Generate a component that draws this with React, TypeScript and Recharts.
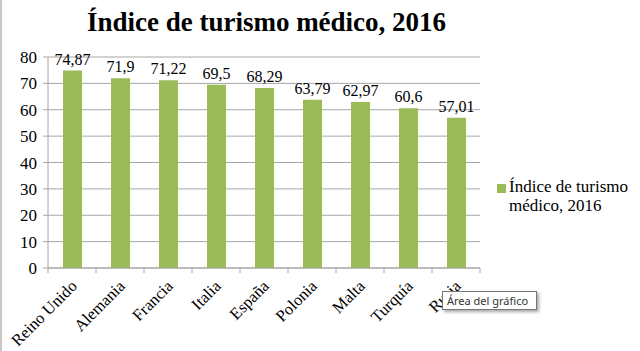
import React from "react";
import { BarChart, Bar, XAxis, YAxis, CartesianGrid, LabelList } from "recharts";

const countries = ["Reino Unido", "Alemania", "Francia", "Italia", "España", "Polonia", "Malta", "Turquía", "Rusia"];
const values = [74.87, 71.9, 71.22, 69.5, 68.29, 63.79, 62.97, 60.6, 57.01];
const yTicks = [0, 10, 20, 30, 40, 50, 60, 70, 80];
const title = "Índice de turismo médico, 2016";
const seriesName = "Índice de turismo médico, 2016";

const data = countries.map((c, i) => ({ name: c, value: values[i] }));

const SERIF = "'Liberation Serif', 'DejaVu Serif', serif";
const GREEN = "#9BBB59";
const GRID = "#a6a6a6";

const XTick = (props: any) => {
  const { x, y, payload, index } = props;
  const half = 24;
  return (
    <g>
      <line x1={x - half} y1={y - 8} x2={x - half} y2={y - 3} stroke={GRID} />
      {index === countries.length - 1 && (
        <line x1={x + half} y1={y - 8} x2={x + half} y2={y - 3} stroke={GRID} />
      )}
      <text
        x={x + 6}
        y={y + 11}
        transform={`rotate(-45, ${x + 6}, ${y + 11})`}
        textAnchor="end"
        fontFamily={SERIF}
        fontSize={16.5}
        fill="#000"
      >
        {payload.value}
      </text>
    </g>
  );
};

export default function App() {
  return (
    <div style={{ position: "absolute", left: 0, top: 0, width: 640, height: 351, background: "#fff", overflow: "hidden" }}>
      <div style={{ position: "absolute", left: 0, top: 0, width: 2, height: 351, background: "#c8c8c8" }} />
      <div
        style={{
          position: "absolute",
          left: 0,
          top: 3,
          width: 533,
          textAlign: "center",
          fontFamily: SERIF,
          fontWeight: "bold",
          fontSize: 27,
          lineHeight: "38px",
          color: "#000",
        }}
      >
        {title}
      </div>
      <div style={{ position: "absolute", left: 0, top: 0 }}>
        <BarChart width={640} height={351} data={data} margin={{ top: 57, right: 160, left: 0, bottom: 0 }} barSize={19}>
          <CartesianGrid vertical={false} stroke={GRID} />
          <XAxis
            dataKey="name"
            height={83}
            interval={0}
            axisLine={{ stroke: GRID }}
            tickLine={false}
            tick={<XTick />}
          />
          <YAxis
            width={48}
            domain={[0, 80]}
            ticks={yTicks}
            interval={0}
            axisLine={{ stroke: GRID }}
            tickLine={{ stroke: GRID }}
            tickSize={5}
            tickMargin={6}
            tick={{ fontFamily: SERIF, fontSize: 17, fill: "#000" }}
          />
          <Bar dataKey="value" fill={GREEN} isAnimationActive={false}>
            <LabelList
              dataKey="value"
              position="top"
              offset={6}
              formatter={(v: any) => String(v).replace(".", ",")}
              style={{ fontFamily: SERIF, fontSize: 16, fill: "#000" }}
            />
          </Bar>
        </BarChart>
      </div>
      <div style={{ position: "absolute", left: 497, top: 177, display: "flex", alignItems: "flex-start" }}>
        <div style={{ width: 9, height: 9, background: GREEN, marginTop: 7, marginRight: 3 }} />
        <div style={{ fontFamily: SERIF, fontSize: 17, lineHeight: "19px", color: "#000", width: 135 }}>{seriesName}</div>
      </div>
      <div
        style={{
          position: "absolute",
          left: 442,
          top: 291,
          width: 89,
          height: 17,
          border: "1px solid #767676",
          background: "#fff",
          boxShadow: "2px 2px 3px rgba(0,0,0,0.35)",
          fontFamily: "'Noto Sans', sans-serif",
          fontSize: 11,
          lineHeight: "17px",
          color: "#333",
          paddingLeft: 4,
          boxSizing: "content-box",
        }}
      >
        Área del gráfico
      </div>
    </div>
  );
}
